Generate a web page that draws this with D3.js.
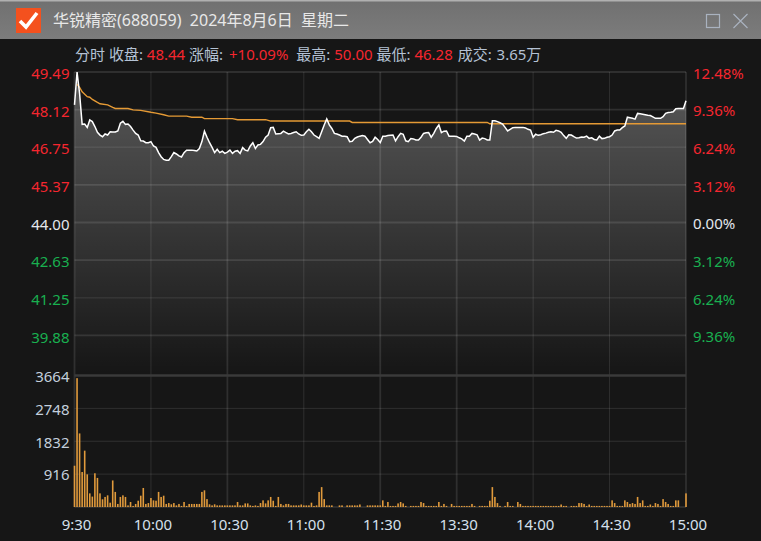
<!DOCTYPE html>
<html><head><meta charset="utf-8">
<script src="https://cdn.jsdelivr.net/npm/d3@7/dist/d3.min.js"></script>
<style>html,body{margin:0;padding:0;background:#161616;overflow:hidden}svg{display:block}text{font-family:"Noto Sans","Noto Sans CJK SC",sans-serif}</style>
</head><body><svg id="c" width="761" height="541"></svg>
<script>
const titleText = "华锐精密(688059)  2024年8月6日  星期二";
const infoParts = [["分时 收盘: ","l"],["48.44","r"],[" 涨幅: ","l"],["+10.09%","r"],[" 最高: ","l"],["50.00","r"],[" 最低: ","l"],["46.28","r"],[" 成交: ","l"],["3.65万","l"]];
const priceTicks = [49.49,48.12,46.75,45.37,44.00,42.63,41.25,39.88];
const pctTicks = [12.48,9.36,6.24,3.12,0,-3.12,-6.24,-9.36];
const volTicks = [3664,2748,1832,916];
const timeTicks = [0,30,60,90,120,150,180,210,240];
const timeLabels = ["9:30","10:00","10:30","11:00","11:30","13:30","14:00","14:30","15:00"];
const prices = [48.29,49.49,48.70,47.58,47.59,47.47,47.74,47.68,47.50,47.29,47.19,47.13,47.23,47.19,47.31,47.30,47.30,47.34,47.62,47.69,
47.58,47.59,47.50,47.37,47.25,47.19,46.98,46.97,46.91,46.91,46.95,46.79,46.74,46.55,46.40,46.30,46.27,46.27,46.40,46.55,
46.50,46.43,46.39,46.55,46.64,46.64,46.64,46.63,46.61,46.70,46.95,47.33,47.11,46.91,46.74,46.55,46.67,46.55,46.60,46.52,
46.57,46.64,46.52,46.60,46.62,46.52,46.73,46.64,46.61,46.79,46.91,46.70,46.83,46.85,46.95,47.11,47.19,47.46,47.47,47.23,
47.24,47.25,47.33,47.28,47.23,47.25,47.28,47.31,47.23,47.18,47.19,47.31,47.40,47.31,47.19,47.13,47.07,47.31,47.56,47.78,
47.56,47.43,47.25,47.23,47.19,47.15,47.15,47.13,46.95,46.96,47.07,47.12,47.15,47.17,47.15,47.03,46.91,46.96,47.11,47.03,
46.92,47.15,47.15,47.17,47.18,47.19,46.98,47.13,47.25,47.22,46.98,46.95,47.06,47.05,47.01,47.01,47.11,47.25,47.27,47.28,
47.11,47.25,47.43,47.56,47.28,47.33,47.34,47.15,47.15,47.15,47.14,47.09,47.05,46.97,47.15,47.15,47.25,47.23,47.20,47.01,
47.08,47.06,47.01,47.01,47.71,47.71,47.68,47.64,47.59,47.47,47.34,47.40,47.46,47.47,47.47,47.47,47.47,47.45,47.40,47.37,
47.11,47.22,47.18,47.20,47.24,47.26,47.29,47.31,47.29,47.36,47.34,47.29,47.17,47.07,47.20,47.19,47.13,47.08,47.09,47.12,
47.11,47.15,47.07,47.09,47.03,47.01,47.15,47.06,47.07,47.11,47.13,47.19,47.34,47.37,47.37,47.46,47.52,47.84,47.82,47.80,
47.77,47.98,47.97,47.95,47.93,47.91,47.90,47.85,47.80,47.80,47.80,47.86,47.98,48.01,48.02,48.04,48.15,48.16,48.16,48.16,48.44];
const avgMinutes = [1,2,3,5,6,7,9,10,13,15,16,21,23,26,30,32,35,37,44,46,50,51,62,64,75,77,108,109,162,163,240];
const avgPrices = [49.04,48.93,48.77,48.59,48.57,48.49,48.38,48.33,48.29,48.20,48.16,48.16,48.11,48.09,48.02,47.99,47.93,47.88,47.88,47.84,47.84,47.79,47.79,47.75,47.75,47.70,47.70,47.65,47.65,47.60,47.60];
const volumes = [1150,3590,2050,975,1570,910,380,290,940,810,380,215,280,325,120,740,420,85,280,325,
280,45,140,30,85,175,315,530,85,110,250,185,175,420,280,315,85,110,75,110,
45,85,30,140,30,85,85,85,85,85,420,465,220,75,45,75,45,45,45,45,
45,45,45,45,140,45,45,100,100,45,30,45,30,110,185,100,185,280,175,30,
280,85,45,85,85,45,45,45,45,70,45,45,45,120,30,45,420,555,220,45,
45,45,0,0,45,45,0,45,45,45,45,45,70,0,0,45,45,45,45,45,
45,185,30,140,30,30,30,100,140,100,30,0,30,30,30,30,140,110,30,30,
30,30,30,140,30,85,30,0,85,30,30,30,30,30,30,30,85,30,0,30,
30,30,30,175,555,280,110,30,0,30,140,30,30,0,140,85,30,30,30,30,
30,30,30,30,30,30,30,30,30,30,30,70,30,30,0,30,30,30,110,110,
85,30,70,30,30,30,30,30,30,30,30,185,110,30,30,30,185,140,85,110,
85,280,110,185,30,30,70,30,110,85,30,220,140,85,30,30,185,185,0,0,380];

const L=74.5,R=686,T=72,M=373,VT=375.5,VB=507;
const infoGaps = [0,0,0,2,4,0,0,0,1,1];
const svg=d3.select("#c");
const defs=svg.append("defs");
const grad=defs.append("linearGradient").attr("id","ag").attr("gradientUnits","userSpaceOnUse").attr("x1",0).attr("x2",0).attr("y1",T).attr("y2",M);
grad.append("stop").attr("offset",0).attr("stop-color","#fff").attr("stop-opacity",0.29);
grad.append("stop").attr("offset",1).attr("stop-color","#fff").attr("stop-opacity",0);
defs.append("clipPath").attr("id","pc").append("rect").attr("x",L-2).attr("y",T).attr("width",R-L+4).attr("height",M-T);

const x=d3.scaleLinear().domain([0,240]).range([L,R]);
const y=d3.scaleLinear().domain([38.51,49.49]).range([M,T]);
const yp=d3.scaleLinear().domain([-12.48,12.48]).range([M,T]);
const yv=d3.scaleLinear().domain([0,3664]).range([VB,VT]);

// window chrome
const tg=defs.append("linearGradient").attr("id","tb").attr("x1",0).attr("x2",0).attr("y1",0).attr("y2",1);
tg.append("stop").attr("offset",0).attr("stop-color","#707070");
tg.append("stop").attr("offset",1).attr("stop-color","#7c7c7c");
svg.append("rect").attr("width",761).attr("height",39).attr("fill","url(#tb)");
svg.append("rect").attr("width",761).attr("height",1.5).attr("fill","#b0b0b0");
svg.append("rect").attr("x",16).attr("y",8).attr("width",25).attr("height",25).attr("fill","#f4511e");
svg.append("path").attr("d","M20 21l6 6 11-14").attr("fill","none").attr("stroke","#fff").attr("stroke-width",3.6);
svg.append("text").attr("x",53).attr("y",26).attr("font-size",16).attr("fill","#e8e8e8").style("white-space","pre").text(titleText);
svg.append("rect").attr("x",706.5).attr("y",14.5).attr("width",13).attr("height",13).attr("fill","none").attr("stroke","#a9b2bf").attr("stroke-width",1.2);
svg.append("path").attr("d","M733.5 14l14 14M747.5 14l-14 14").attr("stroke","#a9b2bf").attr("stroke-width",1.2);

// info line
const info=svg.append("text").attr("x",75).attr("y",60).attr("font-size",15).style("white-space","pre");
info.selectAll("tspan").data(infoParts).join("tspan").attr("dx",(d,i)=>infoGaps[i]).attr("fill",d=>d[1]==="r"?"#f5262f":"#b4c2d4").text(d=>d[0]);

// price area and grid
const curve=d3.curveLinear;
svg.append("path").datum(prices).attr("fill","url(#ag)").attr("clip-path","url(#pc)")
 .attr("d",d3.area().x((d,i)=>x(i)).y0(M).y1(d=>y(d)).curve(curve));

const gridCol="rgba(255,255,255,0.11)";
const thickH=new Set([49.49,48.12,45.37,44.00,42.63,39.88]);
svg.append("g").selectAll("line").data(priceTicks).join("line")
 .attr("x1",L).attr("x2",R).attr("y1",d=>y(d)).attr("y2",d=>y(d)).attr("stroke",gridCol).attr("stroke-width",d=>thickH.has(d)?1.8:1);
svg.append("g").selectAll("line").data(volTicks.slice(1)).join("line")
 .attr("x1",L).attr("x2",R).attr("y1",d=>yv(d)).attr("y2",d=>yv(d)).attr("stroke",gridCol).attr("stroke-width",1);
const thickV=new Set([0,60,120,150,240]);
svg.append("g").selectAll("line").data(timeTicks).join("line")
 .attr("x1",d=>x(d)).attr("x2",d=>x(d)).attr("y1",T).attr("y2",VB)
 .attr("stroke",gridCol).attr("stroke-width",d=>thickV.has(d)?1.8:1);
svg.append("line").attr("x1",L).attr("x2",R).attr("y1",VT).attr("y2",VT).attr("stroke","#3a3a3a").attr("stroke-width",2.6);
svg.append("line").attr("x1",L).attr("x2",R).attr("y1",VB).attr("y2",VB).attr("stroke","#444").attr("stroke-width",1);

// lines
svg.append("path").datum(avgMinutes.map((m,i)=>[m,avgPrices[i]])).attr("fill","none").attr("stroke","#e59a35").attr("stroke-width",1.4)
 .attr("d",d3.line().x(d=>x(d[0])).y(d=>y(d[1])));
svg.append("path").datum(prices).attr("fill","none").attr("stroke","#fff").attr("stroke-width",1.5).attr("clip-path","url(#pc)")
 .attr("d",d3.line().x((d,i)=>x(i)).y(d=>y(d)).curve(curve));

// volume bars
svg.append("g").selectAll("rect").data(volumes).join("rect")
 .attr("x",(d,i)=>x(i)-0.8).attr("width",1.6).attr("y",d=>yv(d)).attr("height",d=>VB-yv(d)).attr("fill","#e09a3c");

// axes
function clean(g){g.select(".domain").remove();g.selectAll(".tick line").remove();g.selectAll("text").attr("font-size",15);}
const priceCol=d=>d>44?"#f5262f":(d<44?"#19b050":"#e4e8ee");
svg.append("g").attr("transform",`translate(${L+3},2)`).call(d3.axisLeft(y).tickValues(priceTicks).tickFormat(d3.format(".2f")).tickSize(0).tickPadding(8)).call(clean)
 .selectAll("text").attr("fill",d=>priceCol(d));
const pctFmt=d=>Math.abs(d).toFixed(2)+"%";
svg.append("g").attr("transform",`translate(${R-1},1.5)`).call(d3.axisRight(yp).tickValues(pctTicks).tickFormat(pctFmt).tickSize(0).tickPadding(8)).call(clean)
 .selectAll("text").attr("fill",d=>d>0?"#f5262f":(d<0?"#19b050":"#e4e8ee"));
svg.append("g").attr("transform",`translate(${L+3},1)`).call(d3.axisLeft(yv).tickValues(volTicks).tickFormat(d3.format("d")).tickSize(0).tickPadding(8)).call(clean)
 .selectAll("text").attr("fill","#c3cfdc");
svg.append("g").attr("transform",`translate(1.5,${VB})`).call(d3.axisBottom(x).tickValues(timeTicks).tickFormat((d,i)=>timeLabels[i]).tickSize(0).tickPadding(12)).call(clean)
 .selectAll("text").attr("fill","#d5e0ec");
</script></body></html>
